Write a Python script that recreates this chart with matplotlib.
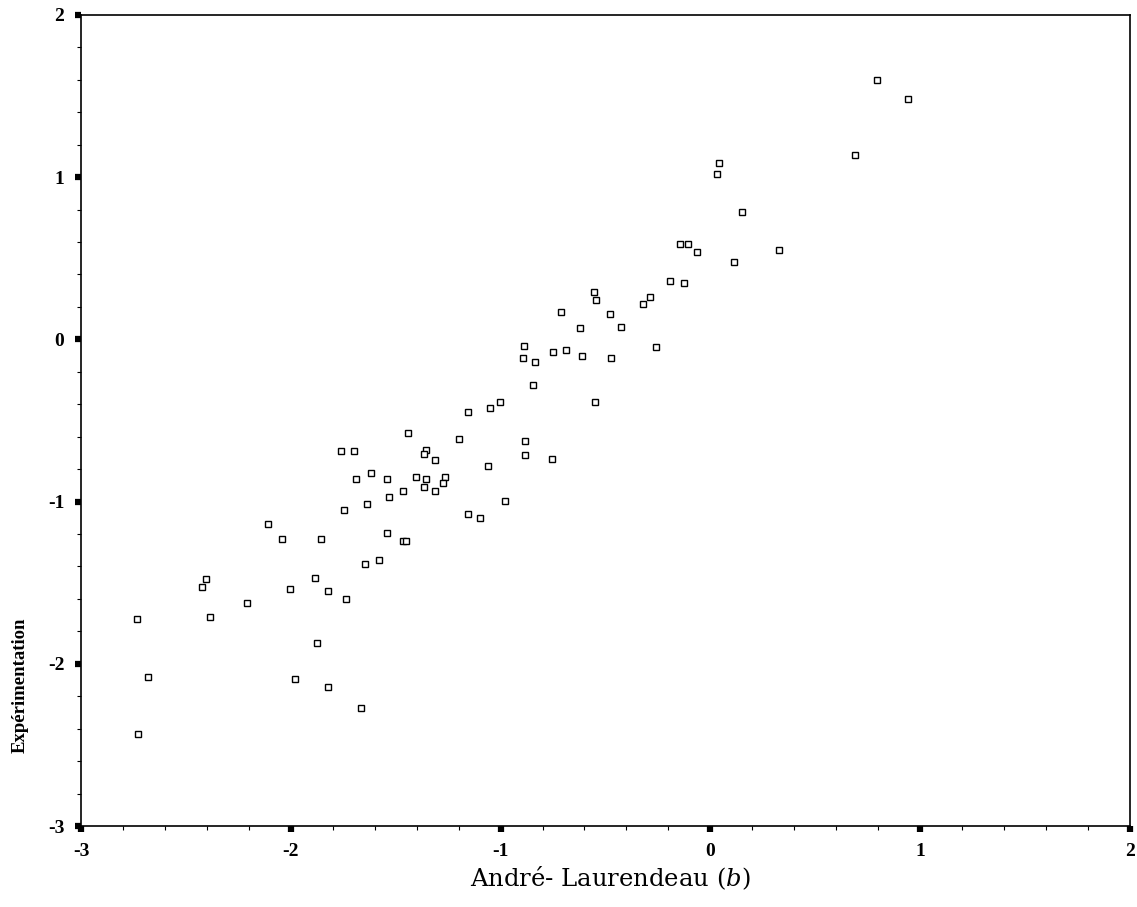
import matplotlib
matplotlib.use('Agg')
import matplotlib.pyplot as plt
from matplotlib.ticker import MultipleLocator

plt.rcParams['font.family'] = ['Liberation Serif', 'DejaVu Serif']
plt.rcParams['mathtext.fontset'] = 'custom'
plt.rcParams['mathtext.rm'] = 'DejaVu Serif'
plt.rcParams['mathtext.it'] = 'DejaVu Serif:italic'

# André-Laurendeau (b) vs expérimentation
x_al = [0.794, 0.941, 0.689, 0.040, 0.030, 0.149, -0.146, -0.105, -0.064, 0.326,
        0.112, -0.193, -0.124, -0.556, -0.544, -0.290, -0.319, -0.710, -0.476, -0.427,
        -0.622, -0.886, -0.895, -0.837, -0.749, -0.689, -0.611, -0.475, -0.259, -0.846,
        -0.551, -1.002, -1.051, -1.157, -1.443, -1.199, -0.883, -0.883, -0.754, -1.060,
        -1.759, -1.699, -1.354, -1.367, -1.314, -1.619, -1.689, -1.541, -1.403, -1.354,
        -1.265, -1.275, -1.363, -1.314, -1.463, -1.530, -1.638, -1.748, -0.981, -1.156,
        -1.099, -2.110, -2.043, -1.854, -1.540, -1.467, -1.449, -1.648, -1.580, -2.406,
        -2.425, -1.884, -2.003, -1.824, -1.735, -2.210, -2.732, -2.387, -1.873, -2.680,
        -1.981, -1.824, -1.663, -2.729]
y_exp = [1.599, 1.483, 1.134, 1.088, 1.017, 0.786, 0.589, 0.589, 0.539, 0.551,
         0.475, 0.358, 0.348, 0.294, 0.245, 0.259, 0.220, 0.167, 0.154, 0.078,
         0.068, -0.039, -0.115, -0.140, -0.076, -0.064, -0.101, -0.113, -0.048, -0.281,
         -0.383, -0.383, -0.423, -0.449, -0.578, -0.614, -0.625, -0.714, -0.739, -0.778,
         -0.691, -0.689, -0.679, -0.706, -0.741, -0.822, -0.861, -0.861, -0.847, -0.859,
         -0.847, -0.886, -0.911, -0.935, -0.935, -0.974, -1.014, -1.054, -0.996, -1.074,
         -1.099, -1.140, -1.231, -1.230, -1.191, -1.243, -1.243, -1.383, -1.358, -1.475,
         -1.527, -1.473, -1.537, -1.551, -1.599, -1.628, -1.721, -1.709, -1.873, -2.081,
         -2.091, -2.143, -2.271, -2.434]

xticks = [-3, -2, -1, 0, 1, 2]
xtick_labels = ['-3', '-2', '-1', '0', '1', '2']
yticks = [-3, -2, -1, 0, 1, 2]
ytick_labels = ['-3', '-2', '-1', '0', '1', '2']

fig = plt.figure(figsize=(11.37, 9.07), dpi=100)
ax = fig.add_axes([0.0712, 0.0893, 0.9226, 0.8942])

ax.plot(x_al, y_exp, linestyle='none', marker='s', markersize=4.5,
        markerfacecolor='white', markeredgecolor='black', markeredgewidth=1.0)

ax.set_xlim(-3, 2)
ax.set_ylim(-3, 2)
ax.set_xticks(xticks)
ax.set_xticklabels(xtick_labels, fontweight='bold', fontsize=14)
ax.set_yticks(yticks)
ax.set_yticklabels(ytick_labels, fontweight='bold', fontsize=14)
ax.xaxis.set_minor_locator(MultipleLocator(0.2))
ax.yaxis.set_minor_locator(MultipleLocator(0.2))
ax.tick_params(which='major', direction='out', length=4, width=4.5, color='black', pad=8)
ax.tick_params(which='minor', direction='out', length=3, width=0.8, color='black')

for s in ax.spines.values():
    s.set_linewidth(1.2)
    s.set_color('black')

fig.text(0.537, 0.023, r'André- Laurendeau ($\mathit{b}$)', fontsize=17.5,
         family='DejaVu Serif', ha='center', va='baseline')
fig.text(0.018, 0.245, 'Expérimentation', fontsize=13.5, fontweight='bold',
         rotation=90, ha='center', va='center')

plt.savefig('out.png', dpi=100)
